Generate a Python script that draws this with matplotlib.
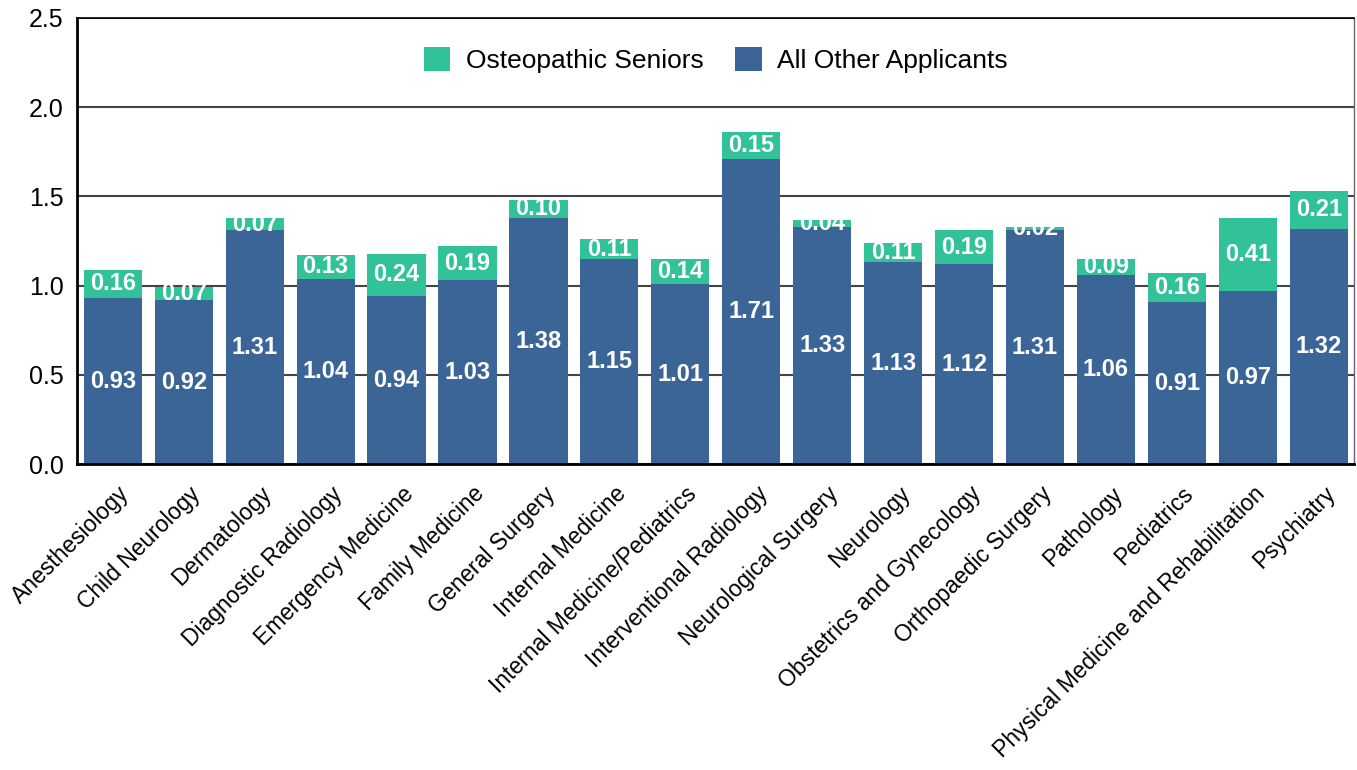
import numpy as np
import matplotlib.pyplot as plt
from matplotlib.transforms import ScaledTranslation

plt.rcParams['font.family'] = ['Liberation Sans', 'DejaVu Sans']

specialties = ['Anesthesiology', 'Child Neurology', 'Dermatology', 'Diagnostic Radiology',
               'Emergency Medicine', 'Family Medicine', 'General Surgery', 'Internal Medicine',
               'Internal Medicine/Pediatrics', 'Interventional Radiology', 'Neurological Surgery',
               'Neurology', 'Obstetrics and Gynecology', 'Orthopaedic Surgery', 'Pathology',
               'Pediatrics', 'Physical Medicine and Rehabilitation', 'Psychiatry']
all_other = [0.93, 0.92, 1.31, 1.04, 0.94, 1.03, 1.38, 1.15, 1.01, 1.71, 1.33, 1.13, 1.12,
             1.31, 1.06, 0.91, 0.97, 1.32]
osteo = [0.16, 0.07, 0.07, 0.13, 0.24, 0.19, 0.10, 0.11, 0.14, 0.15, 0.04, 0.11, 0.19,
         0.02, 0.09, 0.16, 0.41, 0.21]

blue = '#3b6597'
green = '#31c29a'

fig = plt.figure(figsize=(13.57, 7.7), dpi=100)
ax = fig.add_axes([0.057, 0.397, 0.941, 0.58])

x = np.arange(len(specialties))
b1 = ax.bar(x, all_other, width=0.82, color=blue, label='All Other Applicants', zorder=2)
b2 = ax.bar(x, osteo, width=0.82, bottom=all_other, color=green,
            label='Osteopathic Seniors', zorder=2)

# value labels in the middle of each segment
for i in range(len(x)):
    ax.text(x[i], all_other[i] / 2, f'{all_other[i]:.2f}', ha='center', va='center',
            color='white', fontsize=17, fontweight='bold', zorder=3)
    ax.text(x[i], all_other[i] + osteo[i] / 2, f'{osteo[i]:.2f}', ha='center', va='center',
            color='white', fontsize=17, fontweight='bold', zorder=3)

ax.set_xlim(-0.5, len(x) - 0.5)
ax.set_ylim(0, 2.5)
ax.set_yticks([0, 0.5, 1.0, 1.5, 2.0, 2.5])
ax.set_yticklabels(['0.0', '0.5', '1.0', '1.5', '2.0', '2.5'])
ax.yaxis.grid(True, color='#444444', linewidth=1.5, zorder=1)
ax.set_axisbelow(True)
ax.tick_params(axis='y', length=0, labelsize=18, pad=10)
ax.tick_params(axis='x', length=0, labelsize=16.5, pad=13)
ax.set_xticks(x)
ax.set_xticklabels(specialties, rotation=45, ha='right', rotation_mode='anchor')
shift = ScaledTranslation(5 / 100, 0, fig.dpi_scale_trans)
for lab in ax.get_xticklabels():
    lab.set_transform(lab.get_transform() + shift)

for side in ['left', 'bottom']:
    ax.spines[side].set_linewidth(2)
ax.spines['top'].set_linewidth(1.2)
ax.spines['right'].set_linewidth(1)
ax.spines['right'].set_color('#666666')

handles = [b2, b1]
ax.legend(handles, [h.get_label() for h in handles], loc='center',
          bbox_to_anchor=(0.5, 0.905), ncol=2, frameon=False, fontsize=19,
          handlelength=1, handleheight=1, handletextpad=0.6, columnspacing=1.2)

fig.savefig('out.png', dpi=100)
